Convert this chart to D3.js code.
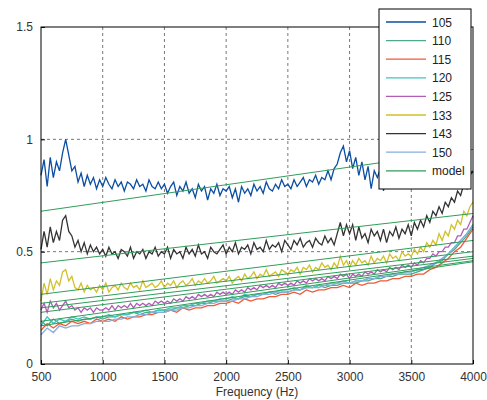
<!DOCTYPE html>
<html>
<head>
<meta charset="utf-8">
<script src="https://cdn.jsdelivr.net/npm/d3@7"></script>
<style>
  body { margin: 0; background: #fff; }
  text { font-family: "Liberation Sans", Arial, sans-serif; }
</style>
</head>
<body>
<svg width="487" height="400" id="svg1"></svg>
<script>
// frequency grids (Hz)
const freqFine = d3.range(500, 4001, 25);
const freqCoarse = d3.range(500, 4001, 50);

const s105 = [
  0.84,0.91,0.79,0.92,0.83,0.90,0.86,0.94,1.00,0.93,0.86,0.88,0.81,0.85,0.79,0.84,0.80,0.83,0.78,0.82,
  0.79,0.83,0.80,0.78,0.82,0.79,0.81,0.77,0.81,0.80,0.78,0.82,0.79,0.80,0.77,0.82,0.79,0.78,0.81,0.78,
  0.80,0.76,0.79,0.81,0.75,0.79,0.77,0.81,0.76,0.78,0.74,0.80,0.77,0.79,0.73,0.78,0.76,0.80,0.75,0.78,
  0.77,0.79,0.74,0.78,0.72,0.79,0.76,0.78,0.75,0.80,0.77,0.79,0.76,0.81,0.78,0.77,0.80,0.78,0.82,0.79,
  0.80,0.78,0.82,0.79,0.81,0.83,0.79,0.82,0.81,0.84,0.80,0.83,0.82,0.86,0.82,0.87,0.89,0.94,0.97,0.90,
  0.95,0.87,0.92,0.84,0.90,0.82,0.88,0.78,0.86,0.83,0.87,0.77,0.85,0.80,0.86,0.78,0.84,0.79,0.85,0.80,
  0.82,0.84,0.81,0.85,0.82,0.86,0.83,0.84,0.81,0.85,0.83,0.86,0.82,0.85,0.83,0.86,0.84,0.87,0.84,0.86,
  0.85];
const s143 = [
  0.51,0.59,0.52,0.61,0.54,0.59,0.55,0.64,0.66,0.59,0.57,0.52,0.55,0.50,0.54,0.49,0.53,0.50,0.52,0.49,
  0.51,0.48,0.52,0.49,0.50,0.47,0.51,0.50,0.48,0.52,0.47,0.50,0.49,0.51,0.47,0.50,0.49,0.52,0.48,0.50,
  0.49,0.52,0.47,0.51,0.49,0.50,0.47,0.52,0.49,0.51,0.48,0.53,0.49,0.50,0.47,0.52,0.50,0.49,0.51,0.53,
  0.49,0.52,0.50,0.54,0.49,0.52,0.51,0.53,0.49,0.54,0.51,0.52,0.50,0.55,0.51,0.53,0.52,0.54,0.50,0.55,
  0.53,0.51,0.55,0.53,0.56,0.52,0.54,0.55,0.52,0.56,0.54,0.53,0.57,0.54,0.56,0.53,0.58,0.63,0.57,0.62,
  0.58,0.62,0.55,0.61,0.56,0.58,0.54,0.60,0.57,0.59,0.55,0.60,0.54,0.59,0.57,0.61,0.56,0.60,0.58,0.62,
  0.57,0.63,0.60,0.64,0.61,0.66,0.63,0.68,0.66,0.70,0.67,0.72,0.70,0.74,0.72,0.77,0.75,0.80,0.78,0.84,
  0.86];
const s133 = [
  0.28,0.36,0.31,0.38,0.33,0.37,0.35,0.41,0.42,0.37,0.39,0.34,0.33,0.36,0.32,0.35,0.33,0.34,0.32,0.35,
  0.33,0.36,0.32,0.34,0.35,0.33,0.36,0.34,0.33,0.36,0.34,0.35,0.33,0.37,0.34,0.35,0.36,0.34,0.35,0.37,
  0.34,0.36,0.35,0.37,0.34,0.36,0.37,0.35,0.36,0.38,0.35,0.37,0.36,0.38,0.36,0.37,0.39,0.36,0.37,0.38,
  0.37,0.39,0.36,0.38,0.39,0.37,0.40,0.38,0.39,0.41,0.38,0.40,0.39,0.42,0.39,0.40,0.41,0.39,0.42,0.41,
  0.40,0.42,0.41,0.43,0.40,0.43,0.42,0.44,0.41,0.43,0.42,0.45,0.43,0.44,0.42,0.45,0.43,0.48,0.44,0.46,
  0.43,0.46,0.44,0.47,0.45,0.46,0.44,0.48,0.45,0.47,0.46,0.48,0.45,0.49,0.47,0.48,0.46,0.50,0.48,0.49,
  0.48,0.51,0.49,0.52,0.50,0.54,0.52,0.55,0.53,0.58,0.55,0.59,0.57,0.62,0.60,0.64,0.62,0.68,0.66,0.70,
  0.72];
const s125 = [
  0.24,0.27,0.23,0.28,0.25,0.27,0.24,0.26,0.28,0.25,0.26,0.24,0.25,0.23,0.25,0.24,0.25,0.23,0.25,0.24,
  0.24,0.25,0.24,0.26,0.24,0.26,0.25,0.26,0.25,0.27,0.25,0.27,0.26,0.27,0.26,0.27,0.26,0.28,0.27,0.28,
  0.27,0.28,0.27,0.29,0.28,0.29,0.28,0.30,0.29,0.30,0.29,0.31,0.30,0.31,0.30,0.31,0.30,0.32,0.31,0.32,
  0.31,0.32,0.31,0.33,0.32,0.33,0.32,0.34,0.33,0.34,0.33,0.35,0.34,0.35,0.34,0.35,0.34,0.36,0.35,0.36,
  0.35,0.36,0.35,0.37,0.36,0.37,0.36,0.38,0.37,0.38,0.37,0.38,0.37,0.39,0.38,0.39,0.38,0.40,0.39,0.40,
  0.38,0.40,0.39,0.40,0.39,0.41,0.40,0.41,0.40,0.42,0.41,0.42,0.41,0.43,0.42,0.43,0.42,0.44,0.43,0.44,
  0.43,0.45,0.44,0.46,0.45,0.47,0.47,0.49,0.48,0.50,0.50,0.52,0.52,0.54,0.54,0.57,0.57,0.60,0.60,0.63,
  0.66];
const s110 = [
  0.19,0.17,0.20,0.18,0.19,0.20,0.19,0.20,0.20,0.21,
  0.20,0.21,0.21,0.22,0.22,0.23,0.22,0.23,0.23,0.24,
  0.24,0.24,0.25,0.25,0.26,0.26,0.27,0.27,0.28,0.28,
  0.28,0.29,0.29,0.30,0.30,0.31,0.31,0.32,0.31,0.32,
  0.32,0.33,0.33,0.34,0.34,0.35,0.34,0.35,0.35,0.36,
  0.36,0.36,0.37,0.37,0.38,0.38,0.39,0.39,0.40,0.40,
  0.40,0.41,0.42,0.43,0.45,0.46,0.49,0.51,0.54,0.57,
  0.61];
const s115 = [
  0.15,0.18,0.16,0.18,0.17,0.19,0.18,0.19,0.18,0.20,
  0.19,0.20,0.19,0.21,0.20,0.21,0.21,0.22,0.22,0.23,
  0.23,0.24,0.23,0.25,0.24,0.25,0.25,0.26,0.26,0.27,
  0.27,0.28,0.27,0.29,0.28,0.29,0.29,0.30,0.30,0.31,
  0.31,0.32,0.31,0.33,0.32,0.33,0.33,0.34,0.34,0.35,
  0.34,0.36,0.35,0.36,0.36,0.37,0.37,0.38,0.38,0.39,
  0.39,0.40,0.40,0.42,0.43,0.45,0.47,0.50,0.52,0.56,
  0.60];
const s120 = [
  0.17,0.21,0.18,0.20,0.19,0.21,0.20,0.21,0.20,0.21,
  0.21,0.22,0.21,0.22,0.22,0.23,0.23,0.24,0.23,0.24,
  0.24,0.25,0.25,0.26,0.26,0.27,0.27,0.28,0.28,0.29,
  0.29,0.30,0.29,0.31,0.30,0.31,0.31,0.32,0.32,0.33,
  0.33,0.34,0.33,0.35,0.34,0.35,0.35,0.36,0.36,0.37,
  0.36,0.37,0.37,0.38,0.38,0.39,0.39,0.40,0.40,0.41,
  0.41,0.42,0.42,0.44,0.45,0.47,0.49,0.52,0.55,0.58,
  0.62];
const s150 = [
  0.13,0.16,0.14,0.17,0.16,0.17,0.17,0.18,0.18,0.19,
  0.19,0.19,0.20,0.20,0.21,0.21,0.22,0.22,0.23,0.23,
  0.23,0.24,0.24,0.25,0.25,0.26,0.26,0.27,0.27,0.28,
  0.28,0.28,0.29,0.29,0.30,0.30,0.31,0.31,0.32,0.32,
  0.32,0.33,0.33,0.34,0.34,0.34,0.35,0.35,0.36,0.36,
  0.36,0.37,0.37,0.38,0.38,0.39,0.39,0.40,0.40,0.41,
  0.41,0.42,0.43,0.44,0.45,0.47,0.49,0.52,0.55,0.58,
  0.62];

// straight model fits: value at 500 Hz and at 4000 Hz
const modelFreq = [500, 4000];
const modelAt500  = [0.68, 0.23, 0.19, 0.25, 0.27, 0.31, 0.45, 0.17];
const modelAt4000 = [0.955, 0.47, 0.46, 0.48, 0.50, 0.55, 0.67, 0.455];

const legendLabels = ["105", "110", "115", "120", "125", "133", "143", "150", "model"];
const xTicks = [500, 1000, 1500, 2000, 2500, 3000, 3500, 4000];
const yTicks = [0, 0.5, 1, 1.5];

const series = [
  {name: "105", freq: freqFine,   vals: s105, color: "#0b4ea2"},
  {name: "110", freq: freqCoarse, vals: s110, color: "#4fa886"},
  {name: "115", freq: freqCoarse, vals: s115, color: "#f05a38"},
  {name: "120", freq: freqCoarse, vals: s120, color: "#3ec6be"},
  {name: "125", freq: freqFine,   vals: s125, color: "#b25cb6"},
  {name: "133", freq: freqFine,   vals: s133, color: "#d2c02c"},
  {name: "143", freq: freqFine,   vals: s143, color: "#333333"},
  {name: "150", freq: freqCoarse, vals: s150, color: "#86aedc"}
];
const modelColor = "#2f9e5a";

const svg = d3.select("#svg1"),
      margin = {top: 27, right: 14, bottom: 36, left: 41},
      width = +svg.attr("width") - margin.left - margin.right,
      height = +svg.attr("height") - margin.top - margin.bottom,
      x = d3.scaleLinear().domain([500, 4000]).range([0, width]),
      y = d3.scaleLinear().domain([0, 1.5]).range([height, 0]),
      g = svg.append("g").attr("transform", `translate(${margin.left},${margin.top})`);

// dashed grid
g.selectAll(".vgrid")
  .data(xTicks.slice(1, -1))
  .enter().append("line")
    .attr("x1", d => x(d)).attr("x2", d => x(d))
    .attr("y1", 0).attr("y2", height)
    .attr("stroke", "#777").attr("stroke-dasharray", "3,3");
g.selectAll(".hgrid")
  .data(yTicks.slice(1, -1))
  .enter().append("line")
    .attr("x1", 0).attr("x2", width)
    .attr("y1", d => y(d)).attr("y2", d => y(d))
    .attr("stroke", "#777").attr("stroke-dasharray", "3,3");

const line = d3.line().x(d => x(d[0])).y(d => y(d[1]));

// measured curves
series.forEach(s => {
  const pts = d3.zip(s.freq, s.vals);
  g.append("path")
    .datum(pts)
    .attr("fill", "none")
    .attr("stroke", s.color)
    .attr("stroke-width", 1.3)
    .attr("d", line);
});

// model lines on top
modelAt500.forEach((v, i) => {
  g.append("path")
    .datum(d3.zip(modelFreq, [v, modelAt4000[i]]))
    .attr("fill", "none")
    .attr("stroke", modelColor)
    .attr("stroke-width", 1)
    .attr("d", line);
});

// axes (box with inward ticks)
g.append("g")
    .attr("transform", `translate(0,${height})`)
    .call(d3.axisBottom(x).tickValues(xTicks).tickSize(-4).tickPadding(8).tickFormat(d3.format("d")))
    .call(a => a.select(".domain").remove());
g.append("g")
    .call(d3.axisLeft(y).tickValues(yTicks).tickSize(-4).tickPadding(8).tickFormat(d => d))
    .call(a => a.select(".domain").remove());
g.selectAll(".tick text").attr("fill", "#333").style("font-size", "12px");
g.selectAll(".tick line").attr("stroke", "#000");

g.append("rect")
  .attr("width", width).attr("height", height)
  .attr("fill", "none").attr("stroke", "#000").attr("stroke-width", 1);

svg.append("text")
   .attr("x", margin.left + width / 2)
   .attr("y", 396)
   .attr("text-anchor", "middle")
   .style("font-size", "12px")
   .attr("fill", "#333")
   .text("Frequency (Hz)");

// legend
const lg = svg.append("g").attr("transform", "translate(379,9)");
lg.append("rect")
  .attr("width", 92).attr("height", 180)
  .attr("fill", "#fff").attr("stroke", "#000");
const legendColors = series.map(s => s.color).concat([modelColor]);
legendLabels.forEach((lab, i) => {
  const ly = 13 + i * 18.6;
  lg.append("line")
    .attr("x1", 7).attr("x2", 47)
    .attr("y1", ly).attr("y2", ly)
    .attr("stroke", legendColors[i]).attr("stroke-width", 1.3);
  lg.append("text")
    .attr("x", 53).attr("y", ly + 4.5)
    .style("font-size", "12px")
    .attr("fill", "#222")
    .text(lab);
});
</script>
</body>
</html>
